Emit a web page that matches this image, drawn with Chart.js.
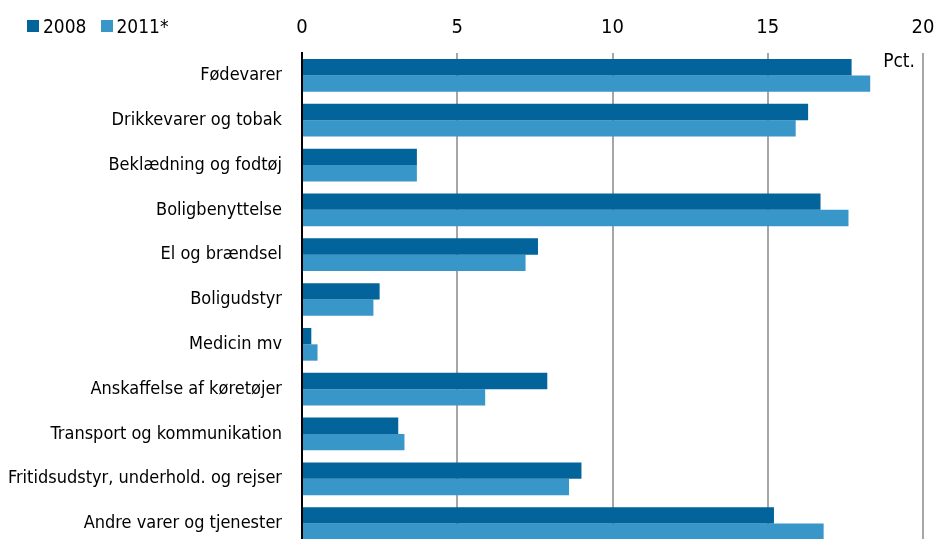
<!DOCTYPE html>
<html>
<head>
<meta charset="utf-8">
<script src="https://cdn.jsdelivr.net/npm/chart.js@4.4.1/dist/chart.umd.min.js"></script>
<style>
  html, body { margin: 0; padding: 0; background: #fff; overflow: hidden; }
  #wrap { position: relative; width: 936px; height: 546px; }
  #c { display: block; }
  #legend { position: absolute; left: 27px; top: 15px; display: flex; align-items: center;
            font-family: "DejaVu Sans Condensed", "Liberation Sans Narrow", sans-serif; font-size: 19px; color: #000; }
  #legend .item { display: flex; align-items: center; margin-right: 14px; }
  #legend .sw { width: 12px; height: 12px; margin-right: 4px; }
</style>
</head>
<body>
<div id="wrap">
  <canvas id="c" width="936" height="546"></canvas>
  <div id="legend"></div>
</div>
<script>
const categories = [
  "Fødevarer",
  "Drikkevarer og tobak",
  "Beklædning og fodtøj",
  "Boligbenyttelse",
  "El og brændsel",
  "Boligudstyr",
  "Medicin mv",
  "Anskaffelse af køretøjer",
  "Transport og kommunikation",
  "Fritidsudstyr, underhold. og rejser",
  "Andre varer og tjenester"
];
const seriesNames = ["2008", "2011*"];
const values2008 = [17.7, 16.3, 3.7, 16.7, 7.6, 2.5, 0.3, 7.9, 3.1, 9.0, 15.2];
const values2011 = [18.3, 15.9, 3.7, 17.6, 7.2, 2.3, 0.5, 5.9, 3.3, 8.6, 16.8];
const xTicks = [0, 5, 10, 15, 20];
const unitLabel = "Pct.";

const colors = ["#02649a", "#3996c9"];
const FONT = '"DejaVu Sans Condensed", "Liberation Sans Narrow", sans-serif';

const legendEl = document.getElementById('legend');
seriesNames.forEach((n, i) => {
  const it = document.createElement('div'); it.className = 'item';
  const sw = document.createElement('div'); sw.className = 'sw'; sw.style.background = colors[i];
  const tx = document.createElement('span'); tx.textContent = n;
  it.appendChild(sw); it.appendChild(tx); legendEl.appendChild(it);
});

const unitPlugin = {
  id: 'unitLabel',
  afterDraw(chart) {
    const ctx = chart.ctx, x = chart.scales.x, a = chart.chartArea;
    ctx.save();
    ctx.font = '19px ' + FONT;
    ctx.fillStyle = '#000';
    ctx.textAlign = 'right';
    ctx.textBaseline = 'middle';
    ctx.fillText(unitLabel, x.getPixelForValue(xTicks[xTicks.length - 1]) - 8, a.top + 9);
    ctx.restore();
  }
};

new Chart(document.getElementById('c'), {
  type: 'bar',
  data: {
    labels: categories,
    datasets: [
      { label: seriesNames[0], data: values2008, backgroundColor: colors[0] },
      { label: seriesNames[1], data: values2011, backgroundColor: colors[1] }
    ]
  },
  options: {
    indexAxis: 'y',
    responsive: false,
    animation: false,
    datasets: { bar: { categoryPercentage: 0.73, barPercentage: 1.0 } },
    layout: { padding: { top: 14, right: 13, bottom: 0, left: 0 }, autoPadding: false },
    plugins: { legend: { display: false }, tooltip: { enabled: false } },
    scales: {
      x: {
        position: 'top',
        min: 0, max: 20,
        afterBuildTicks(s) { s.ticks = xTicks.map(v => ({ value: v })); },
        afterFit(s) { s.height = 39; s.paddingLeft = 0; s.paddingRight = 0; },
        grid: { color: '#a6a6a6', lineWidth: 2, drawTicks: false },
        border: { display: false },
        ticks: { font: { family: FONT, size: 20 }, color: '#000', padding: 13 }
      },
      y: {
        grid: { display: false, drawTicks: false },
        border: { display: true, color: '#000', width: 2 },
        afterFit(s) { s.width = 302; s.paddingTop = 0; s.paddingBottom = 0; },
        ticks: { font: { family: FONT, size: 18 }, color: '#000', padding: 20, autoSkip: false }
      }
    }
  },
  plugins: [unitPlugin]
});
</script>
</body>
</html>
